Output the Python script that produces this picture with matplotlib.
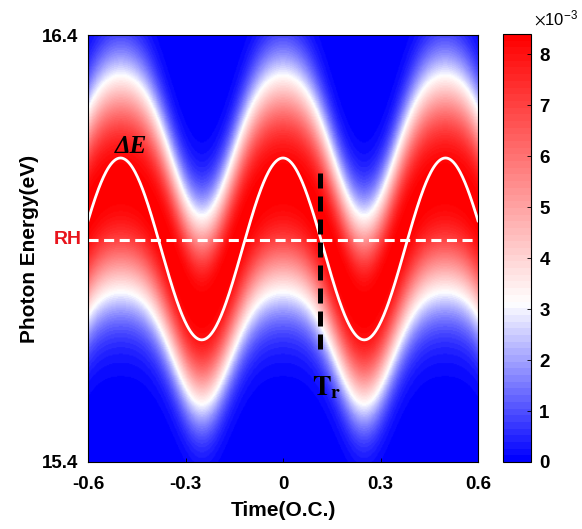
import numpy as np
import matplotlib.pyplot as plt
from matplotlib.colors import LinearSegmentedColormap

plt.rcParams['mathtext.fontset'] = 'stix'

# axes ranges and ticks
time_range = [-0.6, 0.6]
energy_range = [15.4, 16.4]
time_ticks = [-0.6, -0.3, 0, 0.3, 0.6]
time_labels = ['-0.6', '-0.3', '0', '0.3', '0.6']
energy_ticks = [15.4, 16.4]
energy_labels = ['15.4', '16.4']
cbar_ticks = [0, 1, 2, 3, 4, 5, 6, 7, 8]

# spectrogram band (units 1e-3)
period = 0.5
band_center = [15.924, 0.148, -0.02]   # mean, 1st and 2nd harmonic amplitude (eV)
band_width = [0.181, 0.0125]           # mean, oscillation amplitude (eV)
band_shape = 2.5
band_peak = 8.4
cmap_limits = [0, 8.4]
white_level = 3.1

# Delta E curve
dE_center = 15.899
dE_amp = 0.213

# markers
RH = 15.92
Tr = 0.115
Tr_span = [15.665, 16.084]

t = np.linspace(time_range[0], time_range[1], 481)
E = np.linspace(energy_range[0], energy_range[1], 401)
T, EE = np.meshgrid(t, E)
ph = 2 * np.pi * T / period
c = band_center[0] + band_center[1] * np.cos(ph) + band_center[2] * np.cos(2 * ph)
s = band_width[0] + band_width[1] * np.cos(ph)
Z = band_peak * np.exp(-0.5 * np.abs((EE - c) / s) ** band_shape)

wpos = white_level / cmap_limits[1]
cmap = LinearSegmentedColormap.from_list(
    'bwr_m', [(0, (0, 0, 1)), (wpos, (1, 1, 1)), (1, (1, 0, 0))], N=64)

fig = plt.figure(figsize=(5.82, 5.29), dpi=100)
ax = fig.add_axes([88 / 582, 67 / 529, 390 / 582, 427 / 529])
cax = fig.add_axes([503 / 582, 67 / 529, 28 / 582, 428 / 529])

im = ax.imshow(Z, origin='lower', aspect='auto', cmap=cmap,
               vmin=cmap_limits[0], vmax=cmap_limits[1],
               extent=[time_range[0], time_range[1], energy_range[0], energy_range[1]],
               interpolation='bilinear')

ax.plot(t, dE_center + dE_amp * np.cos(2 * np.pi * t / period), color='white', lw=2)
ax.axhline(RH, color='white', lw=2.2, dashes=(3.3, 1.8))
ax.plot([Tr, Tr], Tr_span, color='black', lw=3.6, dashes=(3, 1.6))

ax.text(-0.518, 16.112, 'ΔE', family='Liberation Serif', style='italic',
        fontweight='bold', fontsize=18, color='black', ha='left', va='bottom')
ax.text(0.088, 15.543, r'$\mathbf{T_r}$', fontsize=20, color='black',
        ha='left', va='bottom')
ax.text(-0.618, RH, 'RH', color='#e8141c', fontsize=14, fontweight='bold',
        family='Liberation Sans', ha='right', va='center')

ax.set_xlim(time_range)
ax.set_ylim(energy_range)
ax.set_xticks(time_ticks)
ax.set_xticklabels(time_labels)
ax.set_yticks(energy_ticks)
ax.set_yticklabels(energy_labels)
ax.tick_params(direction='in', length=3, labelsize=13.5, width=0.6)
ax.tick_params(axis='x', pad=10)
ax.tick_params(axis='y', pad=7)
for lab in ax.get_xticklabels() + ax.get_yticklabels():
    lab.set_fontweight('bold')
    lab.set_family('Liberation Sans')
ax.set_xlabel('Time(O.C.)', fontsize=15, fontweight='bold', family='Liberation Sans', labelpad=6)
ax.set_ylabel('Photon Energy(eV)', fontsize=15, fontweight='bold', family='Liberation Sans', labelpad=2)
for sp in ax.spines.values():
    sp.set_linewidth(0.8)

cb = fig.colorbar(im, cax=cax, ticks=cbar_ticks)
cb.ax.tick_params(direction='in', length=3, labelsize=13.5, width=0.6, pad=6)
for lab in cb.ax.get_yticklabels():
    lab.set_fontweight('bold')
    lab.set_family('Liberation Sans')
cb.outline.set_linewidth(0.8)
fig.text(534 / 582, 1 - 18 / 529, r'$\times\mathregular{10^{-3}}$', fontsize=12,
         family='Liberation Sans', ha='left', va='center')

fig.savefig('out.png', dpi=100)
